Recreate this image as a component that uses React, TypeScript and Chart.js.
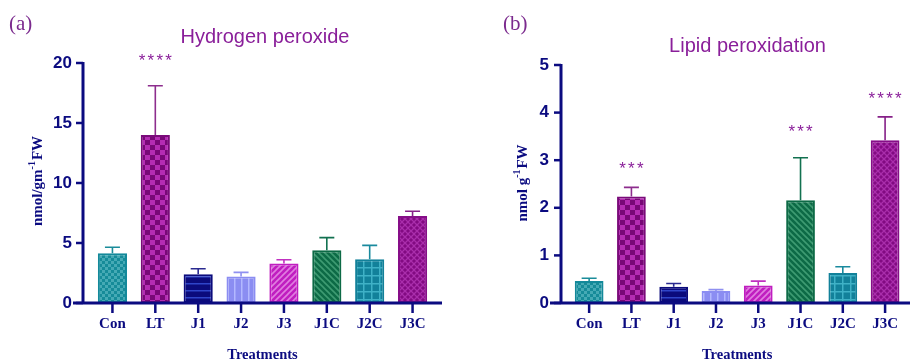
import React, { useEffect, useRef } from "react";
import { Chart, registerables } from "chart.js";

Chart.register(...registerables);

// ---------- data ----------
const categories = ["Con", "LT", "J1", "J2", "J3", "J1C", "J2C", "J3C"];

const h2o2Means = [4.15, 14.0, 2.4, 2.2, 3.3, 4.4, 3.65, 7.25];
const h2o2SD = [0.5, 4.1, 0.45, 0.35, 0.3, 1.05, 1.15, 0.4];
const h2o2Stars = ["", "****", "", "", "", "", "", ""];
const h2o2StarLevel = [0, 20.6, 0, 0, 0, 0, 0, 0];
const h2o2Ticks = [0, 5, 10, 15, 20];

const lipidMeans = [0.46, 2.24, 0.34, 0.25, 0.37, 2.16, 0.63, 3.42];
const lipidSD = [0.06, 0.19, 0.07, 0.03, 0.09, 0.89, 0.13, 0.49];
const lipidStars = ["", "***", "", "", "", "***", "", "****"];
const lipidStarLevel = [0, 2.92, 0, 0, 0, 3.7, 0, 4.39];
const lipidTicks = [0, 1, 2, 3, 4, 5];

// ---------- styles ----------
const NAVY = "#0b0b80";
const PURPLE = "#8a1f9a";

type Spec = { kind: string; bg: string; fg: string; border: string; err: string };
const barStyles: Spec[] = [
  { kind: "checkSmall", bg: "#168b99", fg: "#45aab5", border: "#13899a", err: "#1a8c9a" },
  { kind: "check", bg: "#780877", fg: "#b42cb3", border: "#7a0a7a", err: "#8d2d8d" },
  { kind: "hlines", bg: "#0b0b7c", fg: "#2f44c8", border: "#0b0b7c", err: "#2a2a90" },
  { kind: "vlines", bg: "#8b8df2", fg: "#b3b8ff", border: "#8b8df2", err: "#8f90f0" },
  { kind: "diag", bg: "#c01ec0", fg: "#e07ee0", border: "#c01ec0", err: "#c030c0" },
  { kind: "bdiag", bg: "#0d6a46", fg: "#3e9b72", border: "#0d6a46", err: "#127150" },
  { kind: "grid", bg: "#12819a", fg: "#3fb1c6", border: "#12819a", err: "#1a8a9e" },
  { kind: "cross", bg: "#820a82", fg: "#a92eab", border: "#860e88", err: "#862088" },
];

function makePattern(ctx: CanvasRenderingContext2D, s: Spec): CanvasPattern | string {
  const c = document.createElement("canvas");
  let size = 8;
  if (s.kind === "checkSmall") size = 6;
  if (s.kind === "check") size = 10;
  if (s.kind === "hlines") size = 7;
  if (s.kind === "vlines") size = 7;
  if (s.kind === "diag" || s.kind === "bdiag" || s.kind === "cross") size = 6;
  if (s.kind === "grid") size = 8;
  c.width = size;
  c.height = size;
  const g = c.getContext("2d")!;
  g.fillStyle = s.bg;
  g.fillRect(0, 0, size, size);
  g.fillStyle = s.fg;
  g.strokeStyle = s.fg;
  const h = size / 2;
  if (s.kind === "checkSmall" || s.kind === "check") {
    g.fillRect(0, 0, h, h);
    g.fillRect(h, h, h, h);
  } else if (s.kind === "hlines") {
    g.fillRect(0, 3, size, 1.5);
  } else if (s.kind === "vlines") {
    g.fillRect(3, 0, 1.5, size);
  } else if (s.kind === "grid") {
    g.fillRect(3, 0, 1.5, size);
    g.fillRect(0, 3, size, 1.5);
  } else {
    g.lineWidth = s.kind === "cross" ? 1.3 : 1.6;
    const slash = () => {
      g.beginPath();
      g.moveTo(0, size); g.lineTo(size, 0);
      g.moveTo(-h, h); g.lineTo(h, -h);
      g.moveTo(h, size + h); g.lineTo(size + h, h);
      g.stroke();
    };
    const back = () => {
      g.beginPath();
      g.moveTo(0, 0); g.lineTo(size, size);
      g.moveTo(-h, h); g.lineTo(h, size + h);
      g.moveTo(h, -h); g.lineTo(size + h, h);
      g.stroke();
    };
    if (s.kind === "diag") slash();
    if (s.kind === "bdiag") back();
    if (s.kind === "cross") { slash(); back(); }
  }
  return ctx.createPattern(c, "repeat") || s.bg;
}

type PanelCfg = {
  means: number[];
  sd: number[];
  stars: string[];
  starLevel: number[];
  ticks: number[];
  max: number;
  areaLeft: number;
  areaTop: number;
  padRight: number;
  axisGap: number;
  labelPad: number;
  xLineStart: number;
  xLineEnd: number;
  title: string;
  titleX: number;
  titleY: number;
  panel: string;
  panelX: number;
  yTitleMain: string;
  yTitleX: number;
  yTitleY: number;
};

const W = 455;
const H = 362;
const BOTTOM = 303;

function makeConfig(cfg: PanelCfg, ctx: CanvasRenderingContext2D): any {
  const patterns = barStyles.map((s) => makePattern(ctx, s));
  const decor = {
    id: "decor",
    afterDatasetsDraw(chart: any) {
      const c = chart.ctx as CanvasRenderingContext2D;
      const x = chart.scales.x;
      const y = chart.scales.y;
      c.save();
      // error bars (upper)
      cfg.means.forEach((m, i) => {
        const xp = x.getPixelForValue(i);
        const y0 = y.getPixelForValue(m);
        const y1 = y.getPixelForValue(m + cfg.sd[i]);
        c.strokeStyle = barStyles[i].err;
        c.lineWidth = 1.6;
        c.beginPath();
        c.moveTo(xp, y0);
        c.lineTo(xp, y1);
        c.moveTo(xp - 7.5, y1);
        c.lineTo(xp + 7.5, y1);
        c.stroke();
      });
      // stars
      c.save();
      c.fillStyle = PURPLE;
      c.font = "17px 'Liberation Sans', Arial, sans-serif";
      c.textAlign = "center";
      c.textBaseline = "alphabetic";
      (c as any).letterSpacing = "2.2px";
      cfg.stars.forEach((s, i) => {
        if (!s) return;
        c.fillText(s, x.getPixelForValue(i) + 1.1, y.getPixelForValue(cfg.starLevel[i]) + 9.7);
      });
      c.restore();
      // axes
      const area = chart.chartArea;
      const ax = area.left - cfg.axisGap;
      c.strokeStyle = NAVY;
      c.lineWidth = 3;
      c.beginPath();
      c.moveTo(ax, y.getPixelForValue(cfg.max) - 1);
      c.lineTo(ax, area.bottom);
      c.stroke();
      c.beginPath();
      c.moveTo(cfg.xLineStart, area.bottom);
      c.lineTo(cfg.xLineEnd, area.bottom);
      c.stroke();
      c.lineWidth = 2.5;
      cfg.ticks.forEach((t) => {
        const yp = y.getPixelForValue(t);
        c.beginPath();
        c.moveTo(ax - 7, yp);
        c.lineTo(ax, yp);
        c.stroke();
      });
      categories.forEach((_, i) => {
        const xp = x.getPixelForValue(i);
        c.beginPath();
        c.moveTo(xp, area.bottom);
        c.lineTo(xp, area.bottom + 10);
        c.stroke();
      });
      // titles
      c.fillStyle = PURPLE;
      c.font = "20px 'Liberation Sans', Arial, sans-serif";
      c.textAlign = "center";
      c.textBaseline = "middle";
      c.fillText(cfg.title, cfg.titleX, cfg.titleY);
      c.fillStyle = "#7b2a8e";
      c.font = "21px 'Liberation Serif', 'Times New Roman', serif";
      c.textAlign = "left";
      c.fillText(cfg.panel, cfg.panelX, 24);
      // y title with superscript
      c.translate(cfg.yTitleX, cfg.yTitleY);
      c.rotate(-Math.PI / 2);
      const mainFont = "bold 15px 'Liberation Serif', 'Times New Roman', serif";
      const supFont = "bold 10px 'Liberation Serif', 'Times New Roman', serif";
      c.font = mainFont;
      const w1 = c.measureText(cfg.yTitleMain).width;
      const w3 = c.measureText("FW").width;
      c.font = supFont;
      const w2 = c.measureText("-1").width + 1;
      const total = w1 + w2 + w3;
      let px = -total / 2;
      c.fillStyle = NAVY;
      c.textBaseline = "middle";
      c.textAlign = "left";
      c.font = mainFont;
      c.fillText(cfg.yTitleMain, px, 0);
      px += w1;
      c.font = supFont;
      c.fillText("-1", px, -5.5);
      px += w2;
      c.font = mainFont;
      c.fillText("FW", px, 0);
      c.restore();
    },
  };

  return {
    type: "bar",
    data: {
      labels: categories,
      datasets: [
        {
          data: cfg.means,
          backgroundColor: patterns,
          borderColor: barStyles.map((s) => s.border),
          borderWidth: 2,
          borderSkipped: false,
          barPercentage: 0.68,
          categoryPercentage: 1,
        },
      ],
    },
    options: {
      responsive: false,
      animation: false,
      layout: { padding: { left: 0, right: cfg.padRight, top: cfg.areaTop, bottom: 0 } },
      plugins: {
        legend: { display: false },
        tooltip: { enabled: false },
        title: { display: false },
      },
      scales: {
        x: {
          type: "category",
          offset: true,
          grid: { display: false, drawTicks: false },
          border: { display: false },
          ticks: {
            color: NAVY,
            font: { family: "'Liberation Serif', 'Times New Roman', serif", size: 15, weight: "bold" },
            padding: 12,
            maxRotation: 0,
            autoSkip: false,
          },
          title: {
            display: true,
            text: "Treatments",
            color: NAVY,
            font: { family: "'Liberation Serif', 'Times New Roman', serif", size: 14.5, weight: "bold", lineHeight: 1 },
            padding: { top: 0, bottom: 0 },
          },
          afterFit: (s: any) => {
            s.height = H - BOTTOM;
          },
        },
        y: {
          min: 0,
          max: cfg.max,
          grid: { display: false, drawTicks: false },
          border: { display: false },
          afterBuildTicks: (s: any) => {
            s.ticks = cfg.ticks.map((v) => ({ value: v }));
          },
          ticks: {
            color: NAVY,
            font: { family: "'Liberation Sans', Arial, sans-serif", size: 17, weight: "bold" },
            padding: cfg.labelPad,
          },
          afterFit: (s: any) => {
            s.width = cfg.areaLeft;
          },
        },
      },
    },
    plugins: [decor],
  };
}

const leftCfg: PanelCfg = {
  means: h2o2Means,
  sd: h2o2SD,
  stars: h2o2Stars,
  starLevel: h2o2StarLevel,
  ticks: h2o2Ticks,
  max: 20,
  areaLeft: 91,
  areaTop: 63,
  padRight: 21,
  axisGap: 8,
  labelPad: 19,
  xLineStart: 73,
  xLineEnd: 442,
  title: "Hydrogen peroxide",
  titleX: 265,
  titleY: 37,
  panel: "(a)",
  panelX: 9,
  yTitleMain: "nmol/gm",
  yTitleX: 38,
  yTitleY: 181,
};

const rightCfg: PanelCfg = {
  means: lipidMeans,
  sd: lipidSD,
  stars: lipidStars,
  starLevel: lipidStarLevel,
  ticks: lipidTicks,
  max: 5,
  areaLeft: 113,
  areaTop: 65,
  padRight: 0,
  axisGap: 7,
  labelPad: 19,
  xLineStart: 95,
  xLineEnd: 455,
  title: "Lipid peroxidation",
  titleX: 292.5,
  titleY: 46,
  panel: "(b)",
  panelX: 48,
  yTitleMain: "nmol g",
  yTitleX: 68,
  yTitleY: 183,
};

function Panel({ cfg, left }: { cfg: PanelCfg; left: number }) {
  const ref = useRef<HTMLCanvasElement | null>(null);
  useEffect(() => {
    const canvas = ref.current!;
    const ctx = canvas.getContext("2d")!;
    const chart = new Chart(ctx, makeConfig(cfg, ctx));
    return () => chart.destroy();
  }, [cfg]);
  return (
    <canvas
      ref={ref}
      width={W}
      height={H}
      style={{ position: "absolute", left, top: 0, width: W, height: H, display: "block" }}
    />
  );
}

export default function App() {
  return (
    <div
      style={{
        position: "absolute",
        left: 0,
        top: 0,
        width: 910,
        height: 362,
        background: "#ffffff",
        overflow: "hidden",
      }}
    >
      <Panel cfg={leftCfg} left={0} />
      <Panel cfg={rightCfg} left={455} />
    </div>
  );
}
